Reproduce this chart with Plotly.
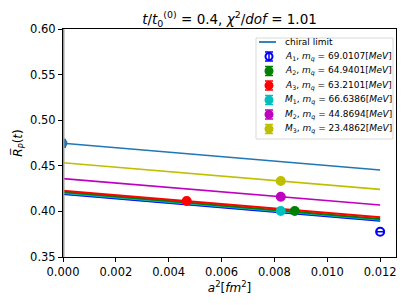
import plotly.graph_objects as go

# Fit lines (value at a^2 = 0 and at a^2 = 0.012)
line_names = ["chiral", "M3", "M2", "A3", "A2", "M1", "A1"]
line_colors = ["#1f77b4", "#bfbf00", "#bf00bf", "#ff0000", "#008000", "#00bfbf", "#0000ff"]
line_x = [0.0, 0.012]
line_y0 = [0.4747, 0.4534, 0.4359, 0.4227, 0.4212, 0.4202, 0.4191]
line_y1 = [0.4454, 0.4242, 0.4070, 0.3935, 0.3918, 0.3908, 0.3898]

# Data points
labels = [
    "<i>A</i><sub>1</sub>, <i>m<sub>q</sub></i> = 69.0107[<i>MeV</i>]",
    "<i>A</i><sub>2</sub>, <i>m<sub>q</sub></i> = 64.9401[<i>MeV</i>]",
    "<i>A</i><sub>3</sub>, <i>m<sub>q</sub></i> = 63.2101[<i>MeV</i>]",
    "<i>M</i><sub>1</sub>, <i>m<sub>q</sub></i> = 66.6386[<i>MeV</i>]",
    "<i>M</i><sub>2</sub>, <i>m<sub>q</sub></i> = 44.8694[<i>MeV</i>]",
    "<i>M</i><sub>3</sub>, <i>m<sub>q</sub></i> = 23.4862[<i>MeV</i>]",
]
pt_colors = ["#0000ff", "#008000", "#ff0000", "#00bfbf", "#bf00bf", "#bfbf00"]
pt_x = [0.0120, 0.00877, 0.00468, 0.00824, 0.00824, 0.00824]
pt_y = [0.3777, 0.4004, 0.4114, 0.4004, 0.4161, 0.4333]
pt_xerr = [0.00013, 0, 0, 0, 0, 0]
pt_err = [0.0, 0.001, 0.001, 0.001, 0.001, 0.001]

chiral_x = [0.0]
chiral_y = [0.4747]
chiral_err = [0.004]

fig = go.Figure()

for i in [0, 1, 2, 6, 5, 4, 3]:
    fig.add_trace(go.Scatter(x=line_x, y=[line_y0[i], line_y1[i]], mode="lines",
                             line=dict(color=line_colors[i], width=2.0 if i >= 3 else 1.6),
                             showlegend=False, hoverinfo="skip"))

fig.add_trace(go.Scatter(x=chiral_x, y=chiral_y, mode="markers",
                         marker=dict(color="#1f77b4", size=9, symbol="circle"),
                         error_y=dict(type="data", array=chiral_err, color="#1f77b4", thickness=2, width=3),
                         showlegend=False))

for k in range(6):
    sym = "circle-open" if k == 0 else "circle"
    fig.add_trace(go.Scatter(x=[pt_x[k]], y=[pt_y[k]], mode="markers",
                             marker=dict(color=pt_colors[k], size=8, symbol=sym,
                                         line=dict(color=pt_colors[k], width=2)),
                             error_x=dict(type="data", array=[pt_xerr[k]], color=pt_colors[k],
                                          thickness=1.5, width=2, visible=pt_xerr[k] > 0),
                             error_y=dict(type="data", array=[pt_err[k]], color=pt_colors[k],
                                          thickness=1.5, width=3, visible=pt_err[k] > 0),
                             showlegend=False))

# gray left line at x = 0
fig.add_shape(type="line", xref="x", yref="paper", x0=0, x1=0, y0=0, y1=1,
              line=dict(color="#999999", width=3), layer="above")

# ---- hand-built legend on an overlay axis measured in plot-area pixels ----
PW, PH = 333, 228
leg_box = dict(x0=193, x1=330, y0=9, y1=110)
row_y = [13, 27.5, 42, 56.5, 71, 85.5, 100]
sym_x = 206
text_x = 220
fig.add_shape(type="rect", xref="x2", yref="y2", x0=leg_box["x0"], x1=leg_box["x1"],
              y0=leg_box["y0"], y1=leg_box["y1"], line=dict(color="#d9d9d9", width=1),
              fillcolor="white", layer="below")
fig.add_shape(type="line", xref="x2", yref="y2", x0=sym_x - 10, x1=sym_x + 7,
              y0=row_y[0], y1=row_y[0], line=dict(color="#1f77b4", width=1.8), layer="above")
fig.add_annotation(xref="x2", yref="y2", x=text_x, y=row_y[0], text="chiral limit",
                   showarrow=False, xanchor="left", yanchor="middle", font=dict(size=9))
for k in range(6):
    sym = "circle-open" if k == 0 else "circle"
    fig.add_trace(go.Scatter(x=[sym_x], y=[row_y[k + 1]], xaxis="x2", yaxis="y2", mode="markers",
                             marker=dict(color=pt_colors[k], size=7, symbol=sym,
                                         line=dict(color=pt_colors[k], width=2)),
                             error_y=dict(type="data", array=[4.5], color=pt_colors[k], thickness=1.5, width=4),
                             showlegend=False, hoverinfo="skip", cliponaxis=False))
    fig.add_annotation(xref="x2", yref="y2", x=text_x, y=row_y[k + 1], text=labels[k],
                       showarrow=False, xanchor="left", yanchor="middle", font=dict(size=9))

fig.update_layout(
    width=407, height=305,
    margin=dict(l=63, r=11, t=29, b=48, autoexpand=False),
    paper_bgcolor="white", plot_bgcolor="white",
    font=dict(family="DejaVu Sans", size=11, color="black"),
    title=dict(text="<i>t</i>/<i>t</i><sub>0</sub><sup>(0)</sup> = 0.4, <i>χ</i><sup>2</sup>/<i>dof</i> = 1.01",
               xref="paper", x=0.5, xanchor="center", yref="container", y=1 - 19 / 305,
               yanchor="middle", font=dict(size=13.5)),
    showlegend=False,
    xaxis2=dict(overlaying="x", range=[0, PW], visible=False, fixedrange=True),
    yaxis2=dict(overlaying="y", range=[PH, 0], visible=False, fixedrange=True),
)
fig.update_layout(xaxis=dict(range=[0, 0.0126], tickvals=[0, 0.002, 0.004, 0.006, 0.008, 0.010, 0.012],
                 ticktext=["0.000", "0.002", "0.004", "0.006", "0.008", "0.010", "0.012"],
                 ticks="outside", ticklen=4, tickcolor="black", showgrid=False, zeroline=False,
                 showline=True, linecolor="black", mirror=True, linewidth=1, automargin=False,
                 tickfont=dict(size=11.5),
                 title=dict(text="<i>a</i><sup>2</sup>[<i>fm</i><sup>2</sup>]", standoff=4, font=dict(size=12))),
                 yaxis=dict(range=[0.35, 0.60], tickvals=[0.35, 0.40, 0.45, 0.50, 0.55, 0.60],
                 ticktext=["0.35", "0.40", "0.45", "0.50", "0.55", "0.60"],
                 ticks="outside", ticklen=4, tickcolor="black", showgrid=False, zeroline=False,
                 showline=True, linecolor="black", mirror=True, linewidth=1, automargin=False,
                 tickfont=dict(size=11.5),
                 title=dict(text="<i>R̅</i><sub><i>P</i></sub>(<i>t</i>)", standoff=4, font=dict(size=12))))

fig.write_html("out.html", config={"displayModeBar": False},
               post_script="document.body.style.margin='0';document.body.style.overflow='hidden';")
